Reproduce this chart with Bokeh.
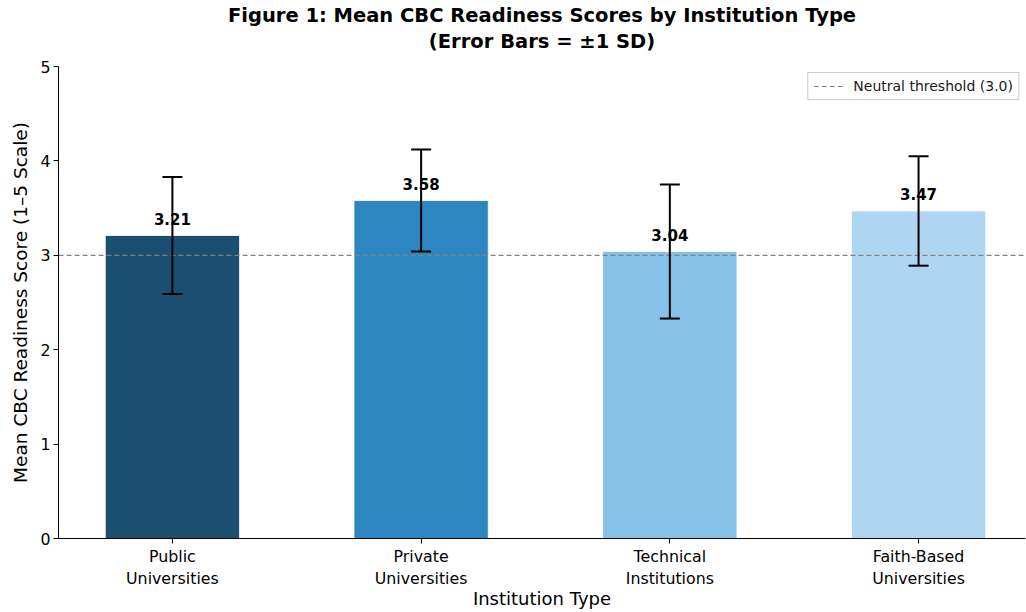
from bokeh.plotting import figure
from bokeh.models import (ColumnDataSource, Whisker, Legend, LegendItem,
                          FixedTicker, Range1d, TeeHead, Title, LinearAxis)
from bokeh.core.properties import value
from bokeh.embed import file_html
from bokeh.resources import INLINE

title_lines = ["Figure 1: Mean CBC Readiness Scores by Institution Type",
               "(Error Bars = \u00b11 SD)"]
categories = ["Public\nUniversities", "Private\nUniversities",
              "Technical\nInstitutions", "Faith-Based\nUniversities"]
means = [3.21, 3.58, 3.04, 3.47]
sds = [0.62, 0.54, 0.71, 0.58]
colors = ["#1b4f72", "#2e86c1", "#85c1e9", "#aed6f1"]
threshold = 3.0
y_ticks = [0, 1, 2, 3, 4, 5]

FONT = "DejaVu Sans"

xs = list(range(len(categories)))
src = ColumnDataSource(dict(
    x=xs, top=means, color=colors,
    upper=[m + s for m, s in zip(means, sds)],
    lower=[m - s for m, s in zip(means, sds)],
    label_y=[m + 0.175 for m in means],
    label=[f"{m:.2f}" for m in means],
))

x_range = Range1d(-0.458, 3.43)
p = figure(width=1026, height=612, output_backend="svg", toolbar_location=None,
           title=None, x_range=x_range, y_range=Range1d(0, 5),
           min_border_left=58, min_border_right=1, min_border_top=66,
           min_border_bottom=73, background_fill_color="white",
           border_fill_color="white", outline_line_color=None)

# second title line as the label of an empty axis placed above the frame
sub = LinearAxis(ticker=FixedTicker(ticks=[]), axis_label=title_lines[1],
                 axis_line_color=None, major_tick_line_color=None,
                 minor_tick_line_color=None, major_tick_out=0, major_tick_in=0,
                 major_label_standoff=0, axis_label_standoff=14,
                 axis_label_text_font=FONT, axis_label_text_font_size="19.5px",
                 axis_label_text_font_style="bold", axis_label_text_color="black")
p.add_layout(sub, "above")
p.add_layout(Title(text=title_lines[0], align="center", text_font=FONT,
                   text_font_size="19.5px", text_font_style="bold",
                   text_color="black", standoff=0), "above")

p.xgrid.visible = False
p.ygrid.visible = False

p.vbar(x="x", top="top", width=0.54, bottom=0, fill_color="color",
       line_color="white", line_width=0.8, source=src)

thr = p.line(x=[x_range.start, x_range.end], y=[threshold, threshold],
             line_color="#808080", line_dash="5 3", line_width=1.2)

p.text(x="x", y="label_y", text="label", source=src, text_align="center",
       text_baseline="alphabetic", text_font_size="15px", text_font_style="bold",
       text_color="black", text_font=value(FONT))

p.add_layout(Whisker(base="x", upper="upper", lower="lower", source=src,
                     level="overlay", line_color="black", line_width=2,
                     upper_head=TeeHead(size=20, line_color="black", line_width=2),
                     lower_head=TeeHead(size=20, line_color="black", line_width=2)))

legend = Legend(items=[LegendItem(label=f"Neutral threshold ({threshold:.1f})",
                                  renderers=[thr])],
                location="top_right", label_text_font=FONT,
                label_text_font_size="14px", label_text_color="#1a1a1a",
                border_line_color="#cccccc", border_line_alpha=1.0,
                background_fill_alpha=0.8, margin=6, padding=5,
                glyph_width=30, glyph_height=16, label_standoff=10, spacing=0)
p.add_layout(legend)

xax = p.below[0]
yax = p.left[0]
xax.ticker = FixedTicker(ticks=xs)
xax.major_label_overrides = {i: c for i, c in zip(xs, categories)}
yax.ticker = FixedTicker(ticks=y_ticks)
xax.axis_label = "Institution Type"
yax.axis_label = "Mean CBC Readiness Score (1\u20135 Scale)"
for ax in (xax, yax):
    ax.axis_label_text_font = FONT
    ax.axis_label_text_font_style = "normal"
    ax.axis_label_text_color = "black"
    ax.major_label_text_font = FONT
    ax.major_label_text_font_size = "15.8px"
    ax.major_label_text_color = "black"
    ax.axis_line_color = "black"
    ax.major_tick_line_color = "black"
    ax.major_tick_out = 5
    ax.major_tick_in = 0
    ax.minor_tick_line_color = None
    ax.major_label_standoff = 3
xax.axis_label_text_font_size = "18px"
yax.axis_label_text_font_size = "18.5px"
xax.axis_label_standoff = -3
yax.axis_label_standoff = 6

open("out.html", "w").write(file_html(p, INLINE))
